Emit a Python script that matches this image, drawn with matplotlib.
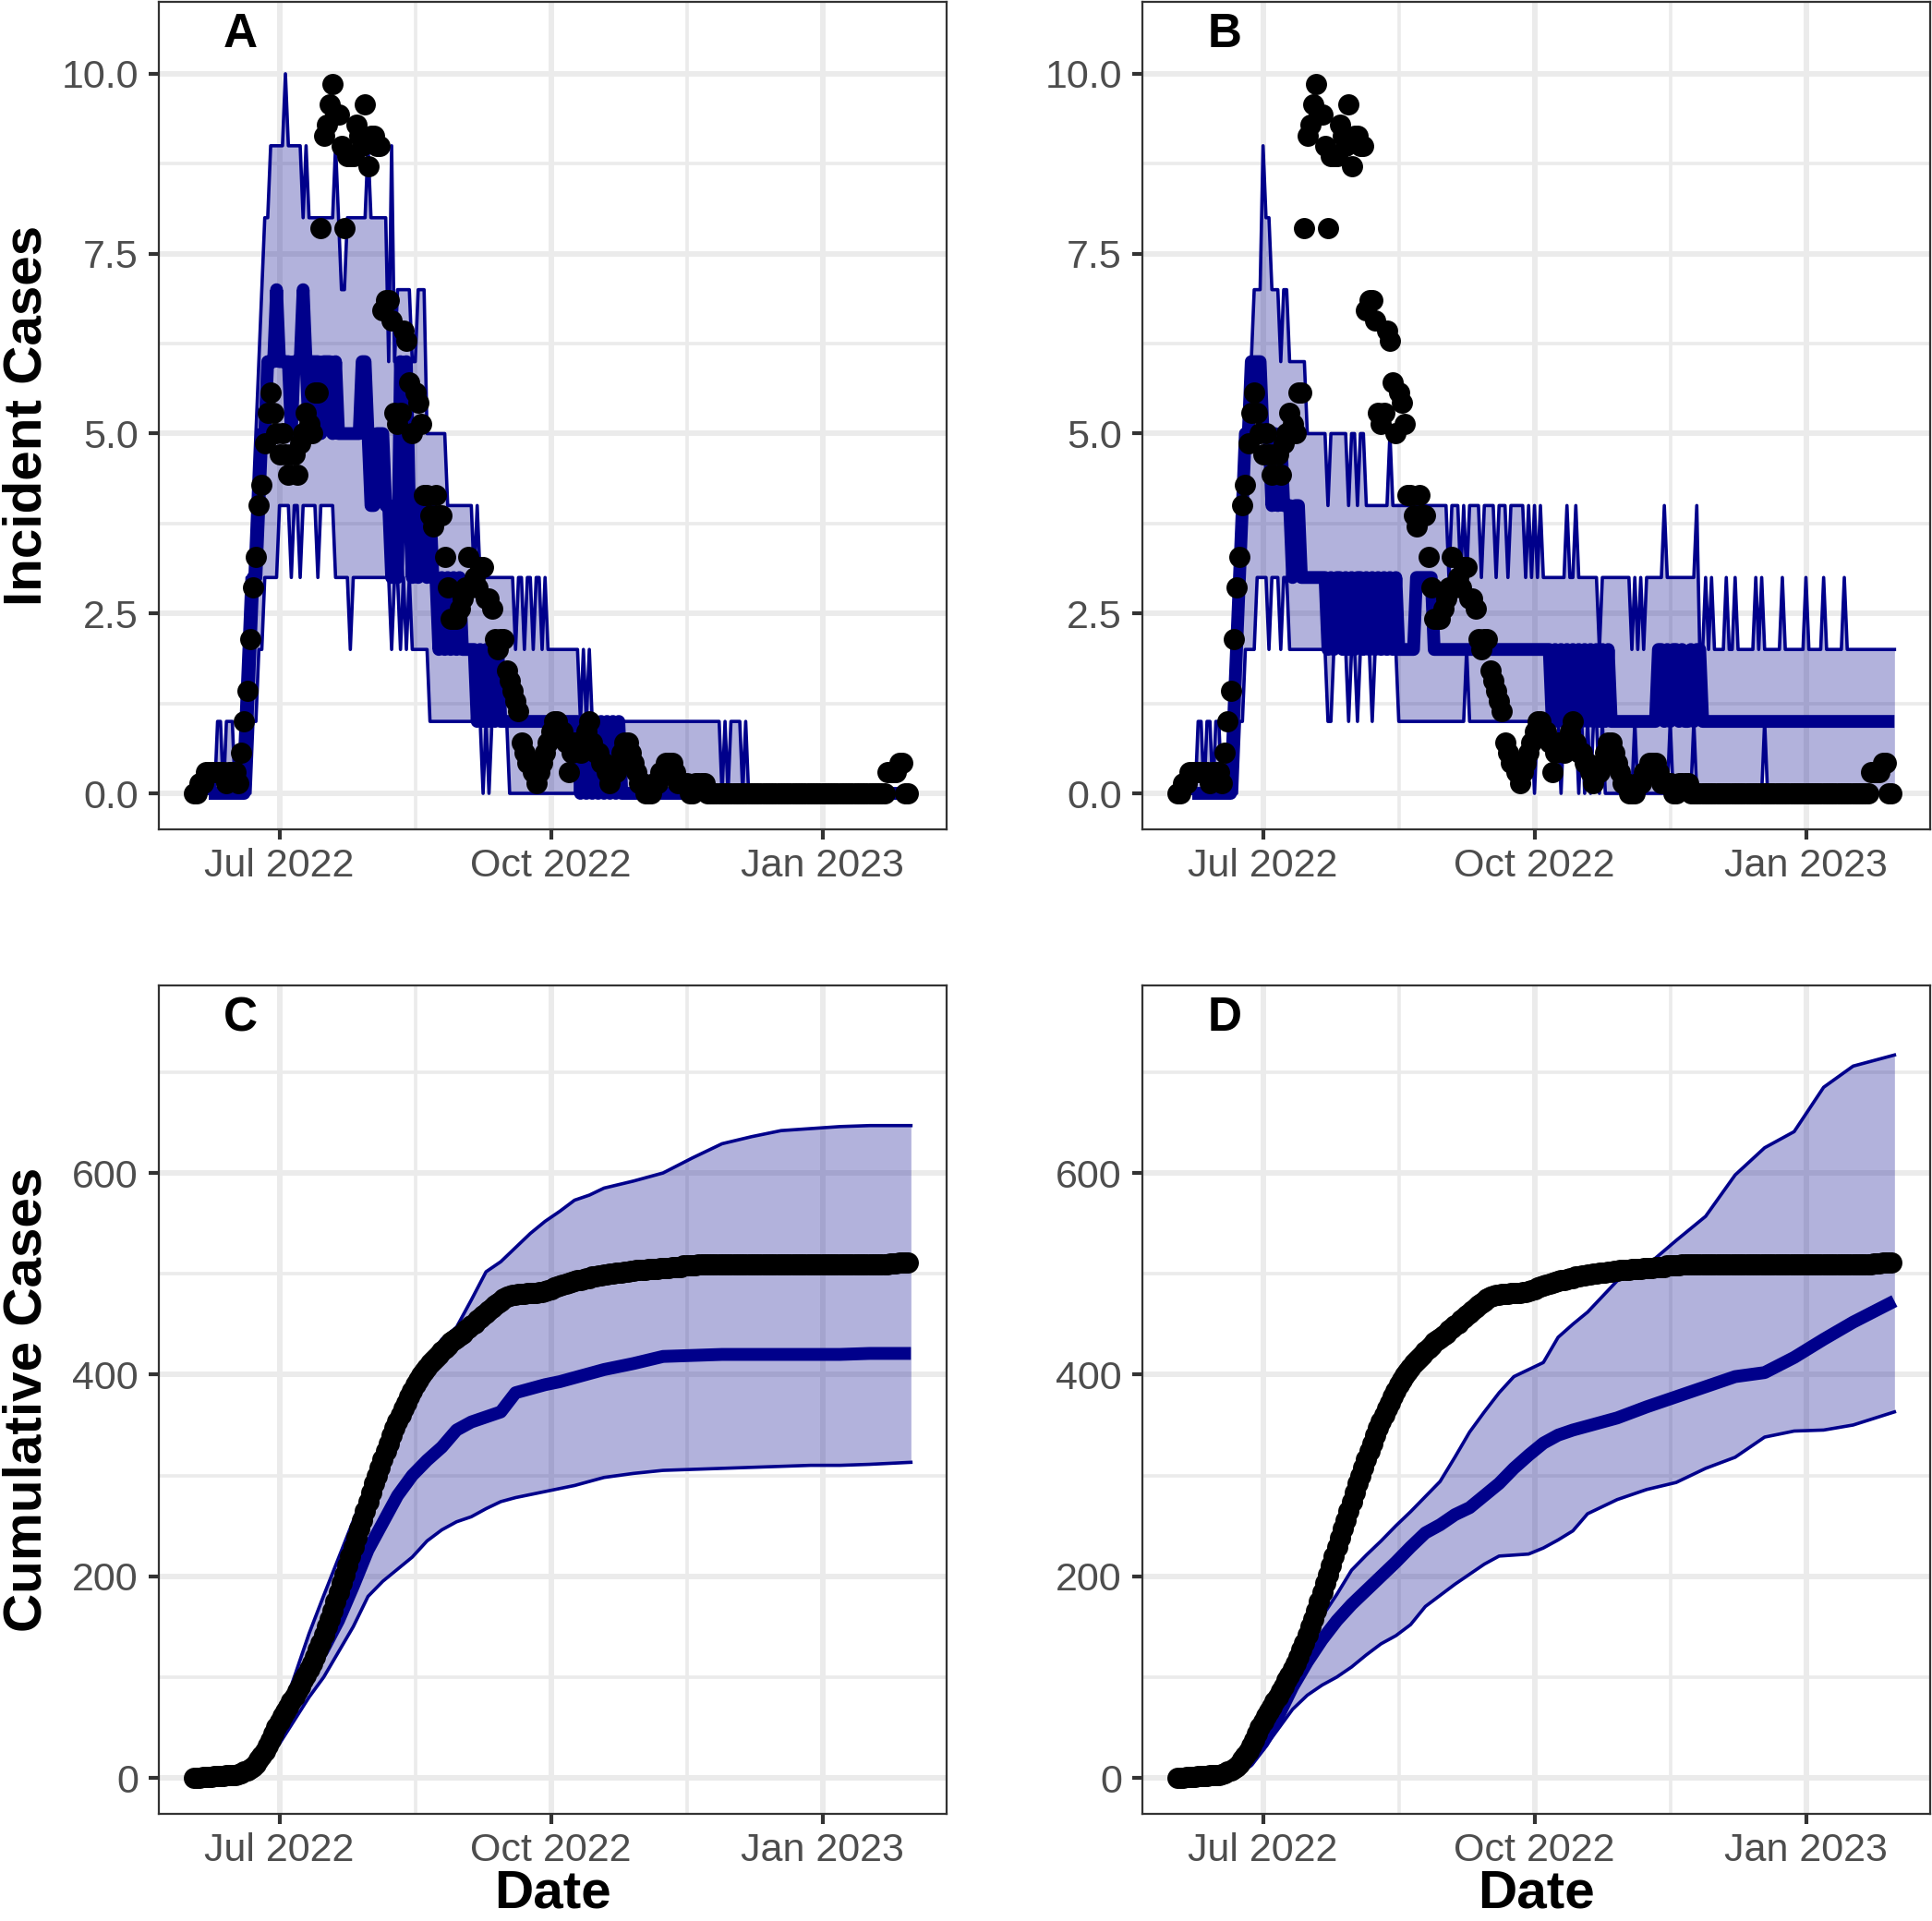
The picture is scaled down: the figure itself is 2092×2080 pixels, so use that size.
import numpy as np
import matplotlib
matplotlib.use("Agg")
import matplotlib.pyplot as plt
import matplotlib.dates as mdates
from matplotlib.ticker import FixedLocator

plt.rcParams['font.family'] = ['Liberation Sans', 'DejaVu Sans']

START = np.datetime64('2022-06-01')   # day 0
LAST_MODEL_DAY = 244

# observed 7-day average of incident cases, days 1..243
obs_incident = [
    0, 0, 0.14, 0.14, 0.29, 0.29, 0.29, 0.29, 0.29, 0.29,
    0.29, 0.14, 0.29, 0.29, 0.29, 0.14, 0.57, 1.0, 1.43, 2.14,
    2.86, 3.29, 4.0, 4.29, 4.86, 5.29, 5.57, 5.29, 5.0, 4.71,
    5.0, 4.71, 4.43, 4.71, 4.71, 4.43, 4.86, 5.0, 5.29, 5.14,
    5.0, 5.57, 5.57, 7.86, 9.14, 9.29, 9.57, 9.86, 9.43, 9.43,
    9.0, 7.86, 8.86, 8.86, 8.86, 9.29, 9.14, 9.0, 9.57, 8.71,
    9.14, 9.14, 9.0, 9.0, 6.71, 6.86, 6.86, 6.57, 5.29, 5.14,
    5.29, 6.43, 6.29, 5.71, 5.0, 5.57, 5.43, 5.14, 4.14, 4.14,
    3.86, 3.71, 4.14, 3.86, 3.86, 3.29, 2.86, 2.43, 2.43, 2.43,
    2.57, 2.71, 2.86, 3.29, 2.86, 3.0, 2.86, 3.14, 3.14, 2.71,
    2.71, 2.57, 2.14, 2.0, 2.14, 2.14, 1.71, 1.57, 1.43, 1.29,
    1.14, 0.71, 0.57, 0.43, 0.43, 0.29, 0.14, 0.29, 0.43, 0.57,
    0.71, 0.86, 1.0, 1.0, 0.86, 0.86, 0.71, 0.29, 0.57, 0.71,
    0.71, 0.57, 0.71, 0.86, 1.0, 0.71, 0.57, 0.57, 0.43, 0.43,
    0.29, 0.14, 0.29, 0.29, 0.43, 0.57, 0.71, 0.71, 0.57, 0.43,
    0.29, 0.14, 0.14, 0, 0, 0, 0.14, 0.14, 0.29, 0.29,
    0.43, 0.43, 0.43, 0.29, 0.14, 0.14, 0.14, 0.14, 0, 0,
    0.14, 0.14, 0.14, 0.14,
] + [0] * 61 + [0.29, 0.29, 0.29, 0.29, 0.43, 0.43, 0, 0]

# observed cumulative cases, days 1..243
obs_cumulative = [
    0, 0, 0, 1, 1, 1, 1, 2, 2, 2,
    2, 3, 3, 3, 3, 4, 5, 6, 7, 9,
    11, 14, 18, 22, 27, 32, 38, 44, 50, 56,
    61, 66, 71, 76, 81, 86, 91, 97, 102, 108,
    114, 120, 127, 134, 142, 150, 158, 166, 175, 184,
    193, 202, 211, 220, 229, 238, 247, 256, 265, 274,
    283, 292, 300, 308, 316, 324, 332, 340, 347, 354,
    360, 366, 372, 378, 384, 390, 395, 399, 403, 407,
    411, 414, 417, 420, 423, 426, 429, 432, 434, 436,
    439, 441, 444, 446, 449, 451, 454, 456, 459, 461,
    464, 466, 469, 471, 473, 475, 477, 478, 479, 479,
    480, 480, 480, 481, 481, 481, 481, 482, 482, 483,
    484, 485, 486, 487, 488, 489, 490, 491, 492, 493,
    494, 494, 495, 496, 496, 497, 497, 498, 498, 499,
    499, 500, 500, 501, 501, 501, 502, 502, 503, 503,
    504, 504, 504, 504, 505, 505, 505, 505, 506, 506,
    506, 506, 507, 507, 507, 507, 508, 508, 508, 508,
    508, 509, 509, 509, 509,
] + [509] * 60 + [509, 510, 510, 510, 511, 511, 511, 511]

# model quantiles of incident cases as (first day, value) steps, days 6..244
a_upper = [(6, 0), (9, 1), (11, 0), (12, 1), (15, 0), (17, 1), (18, 2), (19, 3), (21, 4),
           (22, 5), (23, 6), (24, 7), (25, 8), (27, 9), (32, 10), (33, 9), (38, 8), (39, 9),
           (40, 8), (49, 9), (50, 8), (51, 7), (53, 8), (60, 9), (61, 8), (67, 6), (68, 9),
           (69, 6), (70, 7), (75, 6), (77, 7), (80, 5), (87, 4), (96, 3), (97, 4), (98, 3),
           (110, 2), (111, 3), (113, 2), (114, 3), (116, 2), (117, 3), (119, 2), (120, 3),
           (121, 2), (132, 1), (133, 2), (134, 1), (135, 2), (136, 1), (180, 0), (181, 1),
           (182, 0), (183, 1), (187, 0), (188, 1), (189, 0)]
a_lower = [(6, 0), (21, 1), (23, 2), (25, 3), (30, 4), (34, 3), (35, 4), (37, 3), (38, 4),
           (43, 3), (44, 4), (49, 3), (54, 2), (55, 3), (68, 2), (69, 3), (71, 2), (72, 3),
           (73, 2), (74, 3), (75, 2), (81, 1), (99, 0), (100, 1), (101, 0), (102, 1), (108, 0)]
a_median = [(6, 0), (19, 1), (20, 2), (21, 3), (23, 4), (24, 5), (26, 6), (29, 7), (30, 6),
            (34, 5), (35, 6), (38, 7), (39, 6), (40, 5), (41, 6), (44, 5), (45, 6), (48, 5),
            (49, 6), (50, 5), (58, 6), (60, 5), (61, 4), (63, 5), (66, 4), (68, 3), (69, 4),
            (70, 3), (71, 6), (72, 5), (73, 6), (74, 4), (75, 3), (76, 4), (77, 3), (78, 4),
            (80, 3), (81, 4), (82, 3), (84, 2), (85, 3), (86, 2), (87, 3), (88, 2), (89, 3),
            (90, 2), (91, 3), (92, 2), (97, 1), (98, 2), (99, 1), (100, 2), (101, 1), (102, 2),
            (103, 1), (104, 2), (105, 1), (132, 0), (133, 1), (134, 0), (135, 1), (136, 0),
            (137, 1), (138, 0), (139, 1), (140, 0), (141, 1), (142, 0), (143, 1), (144, 0),
            (145, 1), (146, 0)]

b_upper = [(6, 0), (8, 1), (10, 0), (11, 1), (13, 0), (14, 1), (16, 0), (20, 1), (21, 2),
           (23, 3), (24, 4), (25, 5), (26, 6), (27, 7), (30, 9), (31, 8), (33, 7), (36, 6),
           (37, 7), (39, 6), (45, 5), (52, 4), (53, 5), (59, 4), (60, 5), (62, 4), (63, 5),
           (65, 4), (73, 5), (74, 4), (93, 3), (94, 4), (97, 3), (98, 4), (99, 3), (100, 4),
           (104, 3), (105, 4), (109, 3), (110, 4), (113, 3), (114, 4), (119, 3), (120, 4),
           (121, 3), (122, 4), (123, 3), (124, 4), (125, 3), (133, 4), (134, 3), (136, 4),
           (137, 3), (144, 2), (145, 3), (155, 2), (156, 3), (157, 2), (158, 3), (159, 2),
           (160, 3), (166, 4), (167, 3), (177, 4), (178, 2), (180, 3), (181, 2), (182, 3),
           (183, 2), (187, 3), (188, 2), (190, 3), (191, 2), (197, 3), (198, 2), (199, 3),
           (200, 2), (206, 3), (207, 2), (214, 3), (215, 2), (220, 3), (221, 2), (227, 3),
           (228, 2)]
b_lower = [(6, 0), (22, 1), (24, 2), (28, 3), (32, 2), (33, 3), (36, 2), (37, 3), (39, 2),
           (52, 1), (54, 2), (59, 1), (60, 2), (62, 1), (63, 2), (67, 1), (68, 2), (76, 1),
           (99, 2), (100, 1), (122, 0), (123, 1), (131, 0), (132, 1), (137, 0), (138, 1),
           (139, 0), (140, 1), (141, 0), (142, 1), (144, 0), (145, 1), (146, 0), (156, 1),
           (157, 0), (168, 1), (169, 0), (176, 1), (177, 0), (200, 1), (201, 0)]
b_median = [(6, 0), (20, 1), (21, 2), (22, 3), (23, 4), (24, 5), (26, 6), (30, 5), (33, 4),
            (34, 5), (35, 4), (36, 5), (37, 4), (40, 3), (41, 4), (43, 3), (52, 2), (53, 3),
            (54, 2), (55, 3), (57, 2), (58, 3), (59, 2), (60, 3), (61, 2), (62, 3), (64, 2),
            (65, 3), (66, 2), (67, 3), (68, 2), (69, 3), (70, 2), (71, 3), (72, 2), (73, 3),
            (74, 2), (75, 3), (76, 2), (82, 3), (88, 2), (128, 1), (129, 2), (130, 1), (131, 2),
            (132, 1), (133, 2), (134, 1), (135, 2), (136, 1), (137, 2), (138, 1), (139, 2),
            (140, 1), (141, 2), (142, 1), (143, 2), (144, 1), (145, 2), (146, 1), (147, 2),
            (148, 1), (164, 2), (166, 1), (167, 2), (168, 1), (169, 2), (171, 1), (172, 2),
            (173, 1), (175, 2), (176, 1), (177, 2), (179, 1)]

# model quantiles of cumulative cases, read at these days
cum_days = [6, 15, 20, 25, 30, 35, 40, 45, 50, 55, 60, 65, 70, 75, 80, 85, 90, 95, 100,
            105, 110, 115, 120, 125, 130, 135, 140, 150, 160, 170, 180, 190, 200, 210,
            220, 230, 244]
c_upper = [0, 2, 8, 28, 58, 100, 143, 181, 218, 255, 292, 328, 356, 388, 411, 435, 447,
           474, 502, 512, 526, 540, 552, 562, 573, 578, 585, 592, 600, 615, 629, 636, 642,
           644, 646, 647, 647]
c_median = [0, 1, 5, 20, 45, 75, 103, 128, 156, 190, 226, 253, 280, 300, 315, 328, 345,
            353, 358, 363, 382, 386, 390, 393, 397, 401, 405, 411, 418, 419, 420, 420, 420,
            420, 420, 421, 421]
c_lower = [0, 0, 3, 14, 34, 57, 80, 100, 125, 150, 180, 195, 207, 219, 235, 246, 254, 259,
           267, 274, 278, 281, 284, 287, 290, 294, 298, 302, 305, 306, 307, 308, 309, 310,
           310, 311, 313]
d_upper = [0, 1, 7, 20, 38, 68, 104, 135, 160, 182, 206, 221, 235, 250, 264, 279, 294,
           318, 343, 363, 382, 398, 405, 412, 437, 450, 462, 493, 508, 533, 557, 598, 625,
           641, 685, 706, 717]
d_median = [0, 1, 5, 16, 35, 60, 90, 115, 137, 156, 172, 186, 200, 214, 229, 243, 251,
            261, 268, 280, 292, 307, 320, 332, 340, 345, 349, 357, 368, 378, 388, 398, 402,
            417, 435, 452, 473]
d_lower = [0, 0, 3, 12, 28, 48, 68, 82, 92, 100, 110, 122, 133, 141, 152, 170, 181, 192,
           202, 212, 220, 221, 222, 228, 236, 245, 262, 276, 286, 293, 307, 318, 338, 344,
           345, 350, 363]


def to_dates(days):
    return START + np.asarray(days).astype('timedelta64[D]')


def steps(breaks):
    starts = [b[0] for b in breaks] + [LAST_MODEL_DAY + 1]
    vals = [b[1] for b in breaks]
    return np.repeat(vals, np.diff(starts))


def dnum(s):
    return mdates.date2num(np.datetime64(s))


BLUE = 'darkblue'
GRID = '#EBEBEB'
DARK = '#333333'
XLIM = (dnum('2022-07-01') - 40.9, dnum('2023-01-01') + 42.1)
XMAJOR = [dnum('2022-07-01'), dnum('2022-10-01'), dnum('2023-01-01')]
XMINOR = [dnum('2022-08-16'), dnum('2022-11-16')]


def style(ax, ylim, ymajor, yminor, ylabels):
    ax.set_xlim(*XLIM)
    ax.set_ylim(*ylim)
    ax.xaxis.set_major_locator(FixedLocator(XMAJOR))
    ax.xaxis.set_minor_locator(FixedLocator(XMINOR))
    ax.set_xticklabels(['Jul 2022', 'Oct 2022', 'Jan 2023'])
    ax.yaxis.set_major_locator(FixedLocator(ymajor))
    ax.yaxis.set_minor_locator(FixedLocator(yminor))
    ax.set_yticklabels(ylabels)
    ax.set_axisbelow(True)
    ax.grid(which='major', color=GRID, linewidth=4.3)
    ax.grid(which='minor', color=GRID, linewidth=2.6)
    ax.tick_params(which='minor', length=0)
    ax.tick_params(which='major', length=8, width=3.0, color=DARK,
                   labelsize=31, labelcolor='#4D4D4D')
    ax.tick_params(axis='x', pad=6.5)
    ax.tick_params(axis='y', pad=8)
    for sp in ax.spines.values():
        sp.set_color(DARK)
        sp.set_linewidth(1.6)


def draw(ax, days, lo, med, hi, obs_days, obs, letter, ms=16.5):
    x = to_dates(days)
    ax.fill_between(x, lo, hi, color=BLUE, alpha=0.3, linewidth=0, zorder=2)
    ax.plot(x, lo, color=BLUE, lw=2.6, zorder=3)
    ax.plot(x, hi, color=BLUE, lw=2.6, zorder=3)
    ax.plot(x, med, color=BLUE, lw=10, zorder=4,
            solid_joinstyle='round', solid_capstyle='butt')
    ax.plot(to_dates(obs_days), obs, 'o', color='black', ms=ms, mew=0, zorder=5)
    ax.text(0.104, 0.96, letter, transform=ax.transAxes, ha='center', va='center',
            fontsize=37, fontweight='bold')


fig = plt.figure(figsize=(20.92, 20.80), dpi=100)
W, H = 2092, 2080
left_a, left_b, width = 172 / W, 1237 / W, 853 / W
ax_a = fig.add_axes([left_a, 1 - 898 / H, width, 896 / H])
ax_b = fig.add_axes([left_b, 1 - 898 / H, width, 896 / H])
ax_c = fig.add_axes([left_a, 1 - 1964 / H, width, 897 / H])
ax_d = fig.add_axes([left_b, 1 - 1964 / H, width, 897 / H])

model_days = np.arange(6, LAST_MODEL_DAY + 1)
obs_days = np.arange(1, len(obs_incident) + 1)

draw(ax_a, model_days, steps(a_lower), steps(a_median), steps(a_upper),
     obs_days, obs_incident, 'A')
draw(ax_b, model_days, steps(b_lower), steps(b_median), steps(b_upper),
     obs_days, obs_incident, 'B')
draw(ax_c, cum_days, c_lower, c_median, c_upper, obs_days, obs_cumulative, 'C')
draw(ax_d, cum_days, d_lower, d_median, d_upper, obs_days, obs_cumulative, 'D')

for ax in (ax_a, ax_b):
    style(ax, (-0.5, 11.0), [0, 2.5, 5, 7.5, 10], [1.25, 3.75, 6.25, 8.75],
          ['0.0', '2.5', '5.0', '7.5', '10.0'])
for ax in (ax_c, ax_d):
    style(ax, (-35.7, 786), [0, 200, 400, 600], [100, 300, 500, 700],
          ['0', '200', '400', '600'])

fig.text(45 / W, 1 - 450 / H, 'Incident Cases', rotation=90, rotation_mode='anchor',
         ha='center', va='baseline', fontsize=42, fontweight='bold')
fig.text(45 / W, 1 - 1515 / H, 'Cumulative Cases', rotation=90, rotation_mode='anchor',
         ha='center', va='baseline', fontsize=42, fontweight='bold')
fig.text((172 + 426.5) / W, 1 - 2066 / H, 'Date', ha='center', va='baseline',
         fontsize=42, fontweight='bold')
fig.text((1237 + 426.5) / W, 1 - 2066 / H, 'Date', ha='center', va='baseline',
         fontsize=42, fontweight='bold')

fig.savefig('out.png', dpi=100, facecolor='white')
